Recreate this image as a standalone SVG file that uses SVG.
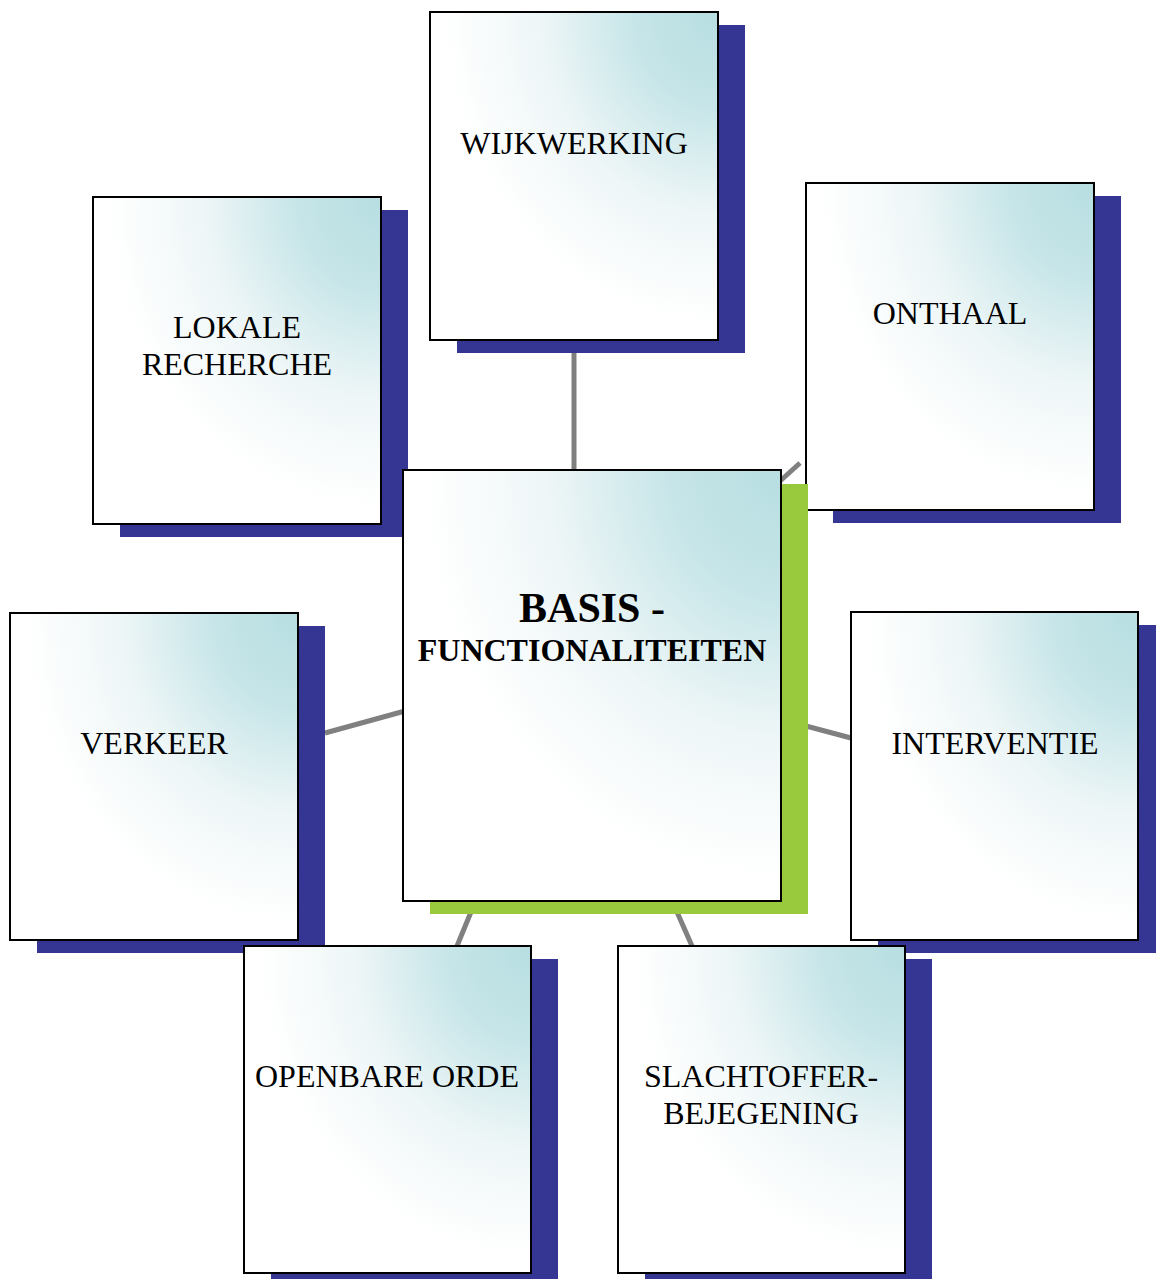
<svg xmlns="http://www.w3.org/2000/svg" width="1156" height="1279" viewBox="0 0 1156 1279">
<defs>
<radialGradient id="g" cx="1" cy="0" r="0.95" fx="1" fy="0">
<stop offset="0" stop-color="#b7dee1"/>
<stop offset="0.3" stop-color="#c6e5e8"/>
<stop offset="0.65" stop-color="#eef6f7"/>
<stop offset="1" stop-color="#ffffff"/>
</radialGradient>
<style>
.sh{fill:#353593}
.gs{fill:#99c93c}
.bx{fill:url(#g);stroke:#000;stroke-width:2}
.t{font-family:"Liberation Serif","Times New Roman",serif;font-size:32px;fill:#000;text-anchor:middle}
.b{font-weight:bold}
.c{stroke:#808080;stroke-width:5;fill:none}
</style>
</defs>
<rect width="1156" height="1279" fill="#fff"/>
<g id="connectors">
<line class="c" x1="574" y1="353" x2="574" y2="472"/>
<line class="c" x1="779" y1="482" x2="800" y2="463"/>
<line class="c" x1="325" y1="733" x2="405" y2="711"/>
<line class="c" x1="806" y1="726" x2="851" y2="738"/>
<line class="c" x1="471" y1="912" x2="457" y2="946"/>
<line class="c" x1="677" y1="912" x2="692" y2="946"/>
</g>
<g id="wijkwerking">
<rect class="sh" x="457" y="25" width="288" height="328"/>
<rect class="bx" x="430" y="12" width="288" height="328"/>
<text class="t" x="574" y="154">WIJKWERKING</text>
</g>
<g id="onthaal">
<rect class="sh" x="833" y="196" width="288" height="327"/>
<rect class="bx" x="806" y="183" width="288" height="327"/>
<text class="t" x="950" y="324">ONTHAAL</text>
</g>
<g id="lokale-recherche">
<rect class="sh" x="120" y="210" width="288" height="327"/>
<rect class="bx" x="93" y="197" width="288" height="327"/>
<text class="t" x="237" y="338">LOKALE</text>
<text class="t" x="237" y="375">RECHERCHE</text>
</g>
<g id="verkeer">
<rect class="sh" x="37" y="626" width="288" height="327"/>
<rect class="bx" x="10" y="613" width="288" height="327"/>
<text class="t" x="154" y="754">VERKEER</text>
</g>
<g id="interventie">
<rect class="sh" x="878" y="625" width="278" height="328"/>
<rect class="bx" x="851" y="612" width="287" height="328"/>
<text class="t" x="995" y="754">INTERVENTIE</text>
</g>
<g id="openbare-orde">
<rect class="sh" x="271" y="959" width="287" height="320"/>
<rect class="bx" x="244" y="946" width="287" height="327"/>
<text class="t" x="387" y="1087">OPENBARE ORDE</text>
</g>
<g id="slachtofferbejegening">
<rect class="sh" x="645" y="959" width="287" height="320"/>
<rect class="bx" x="618" y="946" width="287" height="327"/>
<text class="t" x="761" y="1087">SLACHTOFFER-</text>
<text class="t" x="761" y="1124">BEJEGENING</text>
</g>
<g id="basis">
<rect class="gs" x="430" y="484" width="378" height="430"/>
<rect class="bx" x="403" y="470" width="378" height="431"/>
<text class="t b" x="592" y="622" style="font-size:42px">BASIS -</text>
<text class="t b" x="592" y="661">FUNCTIONALITEITEN</text>
</g>
</svg>
